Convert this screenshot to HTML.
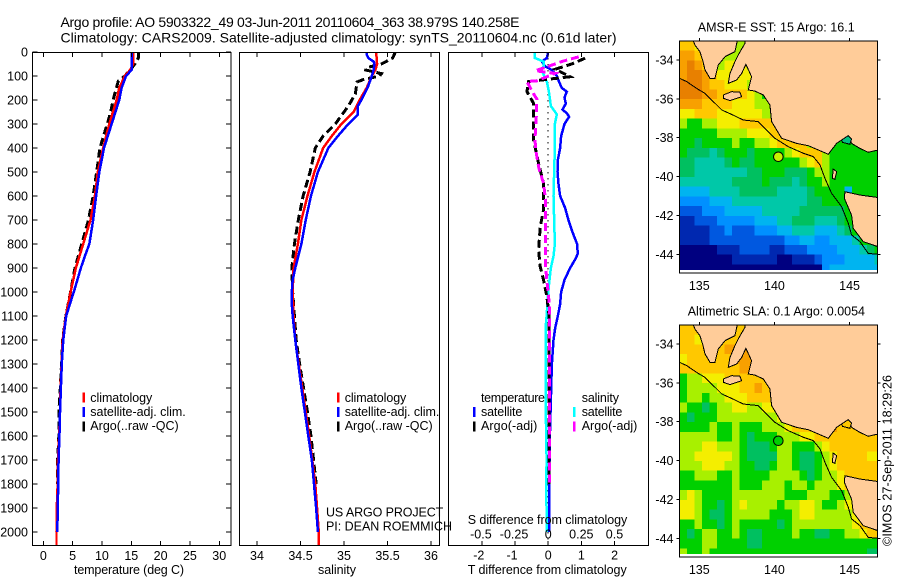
<!DOCTYPE html>
<html>
<head>
<meta charset="utf-8">
<title>Argo profile</title>
<style>
html,body{margin:0;padding:0;background:#fff;}
svg{display:block;}
text{font-family:"Liberation Sans",sans-serif;font-size:12.5px;fill:#000;}
</style>
</head>
<body>
<svg id="chart" xmlns="http://www.w3.org/2000/svg" width="900" height="580" viewBox="0 0 900 580">
<defs>
<clipPath id="clip-temp"><rect x="32.5" y="52" width="198.5" height="493.5"/></clipPath>
<clipPath id="clip-sal"><rect x="239.5" y="52" width="200" height="493.5"/></clipPath>
<clipPath id="clip-diff"><rect x="448.5" y="52" width="200" height="493.5"/></clipPath>
<clipPath id="clip-map-sst"><rect x="679.5" y="41" width="198" height="229"/></clipPath>
<clipPath id="clip-map-sla"><rect x="679.5" y="325" width="198" height="229"/></clipPath>
</defs>

<text x="60.5" y="27" font-size="14" style="font-size:14px" textLength="459">Argo profile: AO 5903322_49 03-Jun-2011 20110604_363 38.979S 140.258E</text>
<text x="60.5" y="42.5" style="font-size:14px" textLength="556">Climatology: CARS2009. Satellite-adjusted climatology: synTS_20110604.nc (0.61d later)</text>

<g id="temp-panel"></g>
<g id="sal-panel"></g>
<g id="diff-panel"></g>
<g id="sst-map"></g>
<g id="sla-map"></g>

<text x="74" y="574" textLength="110">temperature (deg C)</text>
<text x="318" y="574" textLength="38">salinity</text>
<text x="467.7" y="574" textLength="159">T difference from climatology</text>
<text x="467.7" y="524" textLength="159.6">S difference from climatology</text>

<g>
<rect x="82.5" y="392.5" width="2.5" height="10" fill="#ff0000"/>
<rect x="82.5" y="407" width="2.5" height="10" fill="#0000ff"/>
<rect x="82.5" y="421.5" width="2.5" height="10" fill="#000"/>
<text x="90.3" y="402" textLength="62">climatology</text>
<text x="90.3" y="416" textLength="95.4">satellite-adj. clim.</text>
<text x="90.3" y="430" textLength="88.4">Argo(..raw -QC)</text>
</g>
<g>
<rect x="337" y="392.5" width="2.5" height="10" fill="#ff0000"/>
<rect x="337" y="407" width="2.5" height="10" fill="#0000ff"/>
<rect x="337" y="421.5" width="2.5" height="10" fill="#000"/>
<text x="344.7" y="402" textLength="61.6">climatology</text>
<text x="344.7" y="416" textLength="94.6">satellite-adj. clim.</text>
<text x="344.7" y="430" textLength="88">Argo(..raw -QC)</text>
</g>
<text x="326" y="516.7" textLength="117.3">US ARGO PROJECT</text>
<text x="326" y="530.7" textLength="126">PI: DEAN ROEMMICH</text>

<g>
<text x="481" y="402" textLength="64">temperature</text>
<text x="581.7" y="402" textLength="37.3">salinity</text>
<rect x="473" y="407" width="2.5" height="10" fill="#0000ff"/>
<rect x="473" y="421.5" width="2.5" height="10" fill="#000"/>
<rect x="573" y="407" width="2.5" height="10" fill="#00ffff"/>
<rect x="573" y="421.5" width="2.5" height="10" fill="#ff00ff"/>
<text x="481" y="416" textLength="41.3">satellite</text>
<text x="481" y="430" textLength="56.3">Argo(-adj)</text>
<text x="581.7" y="416" textLength="40.6">satellite</text>
<text x="581.7" y="430" textLength="55.6">Argo(-adj)</text>
</g>

<text x="697.7" y="31.7" textLength="157">AMSR-E SST: 15 Argo: 16.1</text>
<text x="687.7" y="315.3" textLength="177.3">Altimetric SLA: 0.1 Argo: 0.0054</text>
<text transform="translate(891.7,546) rotate(-90)" textLength="171">©IMOS 27-Sep-2011 18:29:26</text>
</svg>

<script>
// ---------- axis tick labels ----------
var depthTicks = [0,100,200,300,400,500,600,700,800,900,1000,1100,1200,1300,1400,1500,1600,1700,1800,1900,2000];
var tempTicks = [0,5,10,15,20,25,30];
var salTicks = [34,34.5,35,35.5,36];
var salTickLabels = ['34','34.5','35','35.5','36'];
var diffTTicks = [-2,-1,0,1,2];
var diffSTicks = [-0.5,-0.25,0,0.25,0.5];
var diffSLabels = ['-0.5','-0.25','0','0.25','0.5'];
var lonTicks = [135,140,145];
var latTicks = [-34,-36,-38,-40,-42,-44];

// ---------- temperature panel ----------
var tempClimDepth = [0,50,75,100,150,200,300,400,500,600,700,800,900,1000,1100,1200,1400,1500,1600,1700,1800,1900,2000,2057];
var tempClimValue = [15.3,15.3,14.8,13.9,12.95,12.5,11.25,10.2,9.3,8.8,8.05,6.8,5.55,4.65,3.85,3.3,2.95,2.85,2.7,2.5,2.45,2.3,2.25,2.25];
var tempSatDepth = [0,75,100,150,200,300,400,500,600,700,800,850,900,1000,1030,1100,1200,1300,1400,1500,1600,1700,1800,1900,2000];
var tempSatValue = [15.05,15.05,14.1,13.35,12.95,11.65,10.35,9.55,9,8.5,7.85,7.1,6.4,5.2,4.8,3.9,3.4,3.15,3,2.85,2.75,2.6,2.55,2.45,2.4];
var tempArgoDepth = [0,25,50,75,100,120,200,250,300,400,500,600,700,800,900,1000,1100,1200,1400,1500,1600,1700,1800];
var tempArgoValue = [16.2,16.2,15.6,14.8,13.9,12.8,11.9,11.5,10.9,9.65,9.1,8.5,7.7,6.55,5.4,4.65,3.85,3.3,2.9,2.65,2.65,2.45,2.45];

// ---------- salinity panel ----------
var salClimDepth = [0,50,75,100,150,200,250,300,350,400,500,600,700,800,900,1000,1100,1200,1300,1400,1500,1600,1700,1800,1900,2000,2057];
var salClimValue = [35.37,35.38,35.36,35.32,35.26,35.18,35.11,34.97,34.86,34.76,34.66,34.58,34.51,34.47,34.42,34.41,34.42,34.44,34.48,34.52,34.56,34.6,34.635,34.67,34.69,34.71,34.71];
var salSatDepth = [0,10,25,40,50,75,100,150,200,225,260,300,350,400,450,500,600,700,800,900,950,1000,1050,1100,1200,1300,1400,1500,1600,1700,1800,1900,2000];
var salSatValue = [35.26,35.26,35.28,35.34,35.35,35.34,35.32,35.27,35.2,35.16,35.16,35.05,34.93,34.82,34.76,34.7,34.62,34.56,34.51,34.44,34.41,34.4,34.4,34.41,34.44,34.475,34.51,34.55,34.59,34.63,34.655,34.68,34.7];
var salArgoDepth = [0,25,50,65,75,90,100,115,125,175,225,300,350,400,450,500,600,700,800,900,1000,1100,1200,1300,1400,1500,1600,1700,1800];
var salArgoValue = [35.59,35.56,35.43,35.26,35.25,35.43,35.41,35.22,35.15,35.13,35.05,34.9,34.76,34.67,34.64,34.61,34.53,34.475,34.43,34.4,34.41,34.43,34.45,34.49,34.535,34.58,34.62,34.65,34.68];

// ---------- difference panel ----------
var dTSatDepth = [0,25,40,60,75,100,125,150,165,190,215,240,255,270,300,350,400,450,500,550,600,650,700,750,800,840,860,900,950,1000,1050,1100,1150,1200,1300,1400,1500,1600,1700,1800,2000];
var dTSatValue = [0,-0.04,-0.19,-0.09,0.11,0.26,0.33,0.41,0.56,0.49,0.53,0.43,0.56,0.63,0.49,0.39,0.36,0.29,0.28,0.31,0.36,0.51,0.61,0.73,0.87,0.89,0.83,0.66,0.49,0.39,0.36,0.29,0.21,0.16,0.11,0.09,0.07,0.05,0.04,0.03,0.03];
var dTArgoDepth = [26,50,72,103,123,165,214,283,367,464,547,658,728,825,894,950,1019,1103,1300,1500,1800];
var dTArgoValue = [1.11,0.71,0.21,0.66,-0.59,-0.64,-0.44,-0.44,-0.44,-0.29,-0.14,-0.14,-0.24,-0.29,-0.24,-0.14,-0.04,0.03,0.03,0.02,0.02];
var dSSatDepth = [0,25,40,60,75,100,125,150,175,225,260,300,400,500,600,700,800,850,900,1000,1100,1150,1300,1500,1700,1800,2000];
var dSSatValue = [-0.1,-0.1,-0.035,-0.035,-0.05,-0.03,-0.01,0,0.008,0.02,0.065,0.05,0.05,0.045,0.04,0.045,0.05,0.04,0.02,0,-0.012,-0.02,-0.02,-0.018,-0.012,-0.015,-0.01];
var dSArgoDepth = [20,40,60,78,89,103,120,123,165,197,270,367,422,485,547,617,783,894,950,1060,1300,1800];
var dSArgoValue = [0.23,0.1,0,-0.098,0.05,-0.01,-0.085,-0.16,-0.12,-0.085,-0.09,-0.1,-0.09,-0.07,-0.035,-0.02,-0.02,-0.02,-0.01,0.01,0.01,0.01];

// ---------- map heat levels: one hex digit per half-degree cell ----------
var sstRows = [
"aa9888888887777777777777777",
"bbaa88888888887777777777777",
"bcba789998877777777777777",
"bccba99999887777777777777",
"cccbaa999888777777777777",
"cccbbaaaa98777777777777",
"bbbaaaa99988777777777777",
"99aaa99999988877777777777",
"87788999aaaaa98777777777",
"777778888999aaa9877777777",
"7767777877889aaaa87777777777",
"766656777677778 9aaa8777777",
"665555676677777789a87777777",
"665555555667776667887777777",
"555555566667666567787777777",
"444455556666655556777747777",
"333344455555555556677777777",
"222333444445555566666677777",
"112223333344455666555677777",
"1111223222333445554445677777",
"111122222222223344334445777",
"000001112222112223333444567",
"000000011111100111233344445",
"000000000000000000034444444"
].map(function(r){return r.replace(/ /g,'');});
var slaRows = [
"aaaaaaaaabbbbaaaaaaaaaaaaaa",
"aa99aaaabbbbbaaaaaaaaaaaaaa",
"aaaaaabbbbbbbaaaaaaaaaaaaaa",
"9aaaaaabbbbbaaaaaaaaaaaaaaa",
"aaaaaaaabbbbbaaaaaaaaaaaaaa",
"7889 99aaaaaaabaaaaaaaaaaaa",
"788889 99aabaaaaaaaaaaaaaaa",
"7887889 99aaaaaaaaaaaaaaaaa",
"87767889 988999aaaaaaaaaaaaa",
"767778888888899aaaaaaaaaaaa",
"777787787778889aaaaabaaaaaa",
"888887787677788899aaaaaaaaa",
"888998887666788777 89aaaaaaa",
"889999987666688766789aaaa999",
"888999887766788766789aaaaaa",
"778887787777888876788 9aaaaa",
"777777787778887887888 9aaaaa",
"89877778888888777888 77 89aaa",
"998776789888878899 87789aaaa",
"9987667888887778998888 89aaa",
"77877678777776788888888 9aaa",
"7678877876677778776677 889aa",
"777887777667777777777777777",
"877877777777777777777777766"
].map(function(r){return r.replace(/ /g,'');});
var cellColors = ['#000080','#0028b0','#0058e0','#0090ff','#00b4f0','#00c8a8','#00c060','#00d000','#a8f000','#f4ee00','#ffc800','#f8a000','#e88000'];

// ---------- geography as lon/lat ----------
var eyreLon = [134.6,134.71,135.04,135.22,135.38,135.71,136.04,136.26,136.71,137.37,137.53];
var eyreLat = [-33,-33.23,-33.57,-34,-34.51,-34.94,-34.94,-34.26,-33.83,-33.57,-33];
var mainlandLon = [138.04,138.04,137.59,137.37,137.04,136.93,137.48,137.82,138.1,138.48,138.26,138.7,139.26,139.7,139.81,140.48,141.47,142.25,143.58,144.14,144.91,145.13,145.69,146.24,146.9,146.9];
var mainlandLat = [-33,-33.14,-33.74,-34.09,-34.69,-35.2,-35.03,-34.69,-34.22,-34.86,-35.54,-35.6,-35.8,-36.32,-37.17,-38.03,-38.29,-38.41,-38.85,-38.29,-37.89,-38.29,-38.55,-38.75,-38.63,-33];
var tasmaniaLon = [146.9,145.69,144.69,144.65,145.13,145.24,145.91,146.9];
var tasmaniaLat = [-41.08,-40.95,-40.78,-41.12,-41.98,-42.66,-43.35,-43.61];
var kangarooLon = [136.6,137.15,137.7,137.82,137.04,136.6];
var kangarooLat = [-35.8,-35.63,-35.66,-35.89,-36.09,-35.97];
var kingLon = [143.91,144.14,144.02,143.85];
var kingLat = [-39.61,-39.75,-40.14,-40.09];
var bayLon = [144.47,144.91,145.13,145.02,144.53];
var bayLat = [-38.12,-37.89,-38.07,-38.34,-38.24];
var isobathLon = [133.67,134.16,134.82,135.38,135.93,136.49,137.15,137.93,138.92,139.48,140.03,140.92,141.92,142.58,143.03,143.36,143.8,144.47,144.91,145.13,145.69,146.24,146.84];
var isobathLat = [-34.94,-35.11,-35.46,-35.72,-36.14,-36.57,-36.8,-37.09,-37.17,-37.6,-38.03,-38.46,-38.8,-38.97,-39.4,-40.09,-40.86,-41.55,-42.4,-43,-43.35,-43.95,-44];
var argoLon = [140.258];
var argoLat = [-38.979];

// ---------- axis functions ----------
function yDepth(d){return 52+0.24*d;}
function xTemp(t){return 43.3+5.865*t;}
function xSal(s){return 257+87*(s-34);}
function xDT(t){return 548.2+33.2*t;}
function xDS(s){return 548.2+132.6*s;}
function xLon(l){return 699.3+15.03*(l-135);}
function yLat(l,y34){return y34+19.43*(-34-l);}

var NS='http://www.w3.org/2000/svg';
function mk(tag,attrs,parent){
  var e=document.createElementNS(NS,tag);
  for(var k in attrs){e.setAttribute(k,attrs[k]);}
  parent.appendChild(e);
  return e;
}
function pts(xs,ys,fx,fy){
  var s=[];
  for(var i=0;i<xs.length;i++){s.push(fx(xs[i]).toFixed(2)+','+fy(ys[i]).toFixed(2));}
  return s.join(' ');
}
function drawProfile(parent,clipId,depths,values,fx,color,width,dash,name){
  var l=mk('polyline',{points:pts(values,depths,fx,yDepth),fill:'none',stroke:color,'stroke-width':width,'clip-path':'url(#'+clipId+')','shape-rendering':'crispEdges'},parent);
  if(dash){l.setAttribute('stroke-dasharray',dash);}
  
  
}
function drawFrame(parent,x,y,w,h){
  var f=mk('rect',{x:x,y:y,width:w,height:h,fill:'none',stroke:'#000','stroke-width':1,'shape-rendering':'crispEdges'},parent);
  
  
}
function tick(parent,x1,y1,x2,y2){
  var t=mk('line',{x1:x1,y1:y1,x2:x2,y2:y2,stroke:'#000','stroke-width':1,'shape-rendering':'crispEdges'},parent);
  
  
}
function label(parent,x,y,str,anchor){
  var t=mk('text',{x:x,y:y,'text-anchor':anchor},parent);
  t.textContent=str;
  
  
}

// ---------- temperature ----------
var gT=document.getElementById('temp-panel');
drawProfile(gT,'clip-temp',tempArgoDepth,tempArgoValue,xTemp,'#000',3,'8,4','argo-temperature-line');
drawProfile(gT,'clip-temp',tempClimDepth,tempClimValue,xTemp,'#ff0000',2.5,null,'climatology-temperature-line');
drawProfile(gT,'clip-temp',tempSatDepth,tempSatValue,xTemp,'#0000ff',2.5,null,'satellite-temperature-line');
drawFrame(gT,32.5,52.5,198.5,493);
depthTicks.forEach(function(d){
  tick(gT,32.5,yDepth(d),37.5,yDepth(d));
  tick(gT,226,yDepth(d),231,yDepth(d));
  label(gT,28,yDepth(d)+4.5,String(d),'end');
});
tempTicks.forEach(function(t){
  tick(gT,xTemp(t),52.5,xTemp(t),57);
  tick(gT,xTemp(t),541,xTemp(t),545.5);
  label(gT,xTemp(t),560,String(t),'middle');
});

// ---------- salinity ----------
var gS=document.getElementById('sal-panel');
drawProfile(gS,'clip-sal',salArgoDepth,salArgoValue,xSal,'#000',3,'8,4','argo-salinity-line');
drawProfile(gS,'clip-sal',salClimDepth,salClimValue,xSal,'#ff0000',2.5,null,'climatology-salinity-line');
drawProfile(gS,'clip-sal',salSatDepth,salSatValue,xSal,'#0000ff',2.5,null,'satellite-salinity-line');
drawFrame(gS,239.5,52.5,200,493);
salTicks.forEach(function(s,i){
  tick(gS,xSal(s),52.5,xSal(s),57);
  tick(gS,xSal(s),541,xSal(s),545.5);
  label(gS,xSal(s),560,salTickLabels[i],'middle');
});

// ---------- differences ----------
var gD=document.getElementById('diff-panel');
var zero=mk('line',{x1:xDT(0),y1:52,x2:xDT(0),y2:545,stroke:'#000','stroke-width':1,'stroke-dasharray':'1.5,4.5','shape-rendering':'crispEdges'},gD);


drawProfile(gD,'clip-diff',dTSatDepth,dTSatValue,xDT,'#0000ff',2.5,null,'t-satellite-difference-line');
drawProfile(gD,'clip-diff',dSSatDepth,dSSatValue,xDS,'#00ffff',2.5,null,'s-satellite-difference-line');
drawProfile(gD,'clip-diff',dTArgoDepth,dTArgoValue,xDT,'#000',3,'8,4','t-argo-difference-line');
drawProfile(gD,'clip-diff',dSArgoDepth,dSArgoValue,xDS,'#ff00ff',3,'8,4','s-argo-difference-line');
drawFrame(gD,448.5,52.5,200,493);
diffTTicks.forEach(function(t){
  tick(gD,xDT(t),52.5,xDT(t),57);
  tick(gD,xDT(t),541,xDT(t),545.5);
  label(gD,xDT(t)-(t<0?3:0),559.5,String(t),'middle');
});
diffSTicks.forEach(function(s,i){
  label(gD,xDS(s)-(s<0?1:0),538.5,diffSLabels[i],'middle');
});

// ---------- maps ----------
function drawMap(g,rows,y34,frameTop,frameBottom,clipId,bayColor,markerColor){
  var lonStart=133.67, latStart=-33.02;
  var fy=function(l){return yLat(l,y34);};
  var cells=mk('g',{'clip-path':'url(#'+clipId+')','shape-rendering':'crispEdges'},g);
  
  
  rows.forEach(function(row,r){
    for(var c=0;c<27;c++){
      var ch=row.charAt(c)||row.charAt(row.length-1);
      var x0=xLon(lonStart+c*0.5), x1=xLon(lonStart+(c+1)*0.5);
      var y0=fy(latStart-r*0.5), y1=fy(latStart-(r+1)*0.5);
      var cell=mk('rect',{x:x0.toFixed(1),y:y0.toFixed(1),width:(x1-x0+0.6).toFixed(1),height:(y1-y0+0.6).toFixed(1),fill:cellColors[parseInt(ch,16)]},cells);
      
      
    }
  });
  var geo=mk('g',{'clip-path':'url(#'+clipId+')','shape-rendering':'crispEdges'},g);
  
  
  var lands=[[eyreLon,eyreLat,'eyre-peninsula'],[mainlandLon,mainlandLat,'mainland'],[tasmaniaLon,tasmaniaLat,'tasmania'],[kangarooLon,kangarooLat,'kangaroo-island'],[kingLon,kingLat,'king-island']];
  lands.forEach(function(l){
    var p=mk('polygon',{points:pts(l[0],l[1],xLon,fy),fill:'#ffcc99',stroke:'#000','stroke-width':1},geo);
    
    
  });
  var bay=mk('polygon',{points:pts(bayLon,bayLat,xLon,fy),fill:bayColor,stroke:'#000','stroke-width':1},geo);
  
  
  var iso=mk('polyline',{points:pts(isobathLon,isobathLat,xLon,fy),fill:'none',stroke:'#000','stroke-width':1},geo);
  
  
  var m=mk('circle',{cx:xLon(argoLon[0]),cy:fy(argoLat[0]),r:4.8,fill:markerColor,stroke:'#000','stroke-width':1},g);
  
  
  drawFrame(g,679.5,frameTop,198,frameBottom-frameTop);
  lonTicks.forEach(function(l){
    tick(g,xLon(l),frameTop-3,xLon(l),frameTop);
    label(g,xLon(l),frameBottom+17,String(l),'middle');
  });
  latTicks.forEach(function(l){
    tick(g,676.5,fy(l),679.5,fy(l));
    tick(g,877.5,fy(l),880.5,fy(l));
    label(g,673.5,fy(l)+4.5,String(l),'end');
  });
}
drawMap(document.getElementById('sst-map'),sstRows,60,41,273,'clip-map-sst','#00c080','#c8f000');
drawMap(document.getElementById('sla-map'),slaRows,344,325,557,'clip-map-sla','#ffc800','#00d000');
</script>
</body>
</html>
